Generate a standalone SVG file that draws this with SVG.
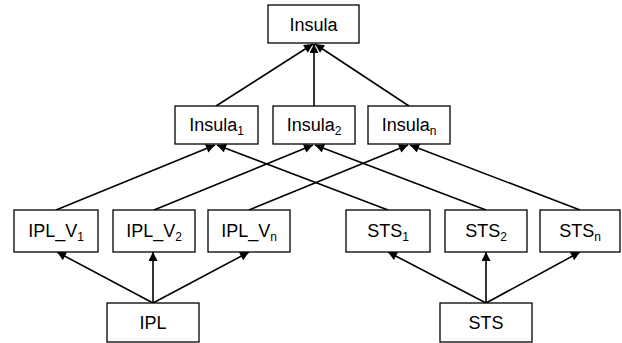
<svg xmlns="http://www.w3.org/2000/svg" width="622" height="343" viewBox="0 0 622 343">
  <defs>
    <marker id="arrow" viewBox="0 0 10 10" refX="10" refY="5" markerWidth="10" markerHeight="9" markerUnits="userSpaceOnUse" orient="auto">
      <path d="M0,0 L10,5 L0,10 Z" fill="#000"/>
    </marker>
    <style>
      .box { fill: #fff; stroke: #000; stroke-width: 1.3; }
      .lbl { font-family: "Liberation Sans", Arial, sans-serif; font-size: 18px; fill: #000; text-anchor: middle; }
      .sub { font-size: 12px; }
      .edge { stroke: #000; stroke-width: 1.6; fill: none; marker-end: url(#arrow); }
    </style>
  </defs>
  <rect width="622" height="343" fill="#fff"/>

  <!-- connectors -->
  <g id="edges">
    <!-- middle layer to top -->
    <line class="edge" x1="216" y1="106" x2="313" y2="44"/>
    <line class="edge" x1="314" y1="106" x2="314" y2="44"/>
    <line class="edge" x1="409" y1="106" x2="315" y2="44"/>
    <!-- lower layer to middle layer -->
    <line class="edge" x1="56" y1="210" x2="215" y2="145"/>
    <line class="edge" x1="388" y1="210" x2="217" y2="145"/>
    <line class="edge" x1="154" y1="210" x2="313" y2="145"/>
    <line class="edge" x1="486" y1="210" x2="315" y2="145"/>
    <line class="edge" x1="249" y1="210" x2="408" y2="145"/>
    <line class="edge" x1="580" y1="210" x2="410" y2="145"/>
    <!-- sources to lower layer -->
    <line class="edge" x1="153" y1="303" x2="57" y2="252"/>
    <line class="edge" x1="153" y1="303" x2="153" y2="252"/>
    <line class="edge" x1="153" y1="303" x2="249" y2="252"/>
    <line class="edge" x1="486" y1="303" x2="388" y2="252"/>
    <line class="edge" x1="486" y1="303" x2="486" y2="252"/>
    <line class="edge" x1="486" y1="303" x2="580" y2="252"/>
  </g>

  <g id="insula">
    <rect class="box" x="268" y="5" width="91" height="38"/>
    <text class="lbl" x="313.5" y="31">Insula</text>
  </g>

  <g id="insula1">
    <rect class="box" x="175" y="106" width="83" height="38"/>
    <text class="lbl" x="216.5" y="131">Insula<tspan class="sub" dy="4">1</tspan></text>
  </g>
  <g id="insula2">
    <rect class="box" x="273" y="106" width="82" height="38"/>
    <text class="lbl" x="314" y="131">Insula<tspan class="sub" dy="4">2</tspan></text>
  </g>
  <g id="insulan">
    <rect class="box" x="368" y="106" width="82" height="38"/>
    <text class="lbl" x="409" y="131">Insula<tspan class="sub" dy="4">n</tspan></text>
  </g>

  <g id="ipl_v1">
    <rect class="box" x="14" y="210" width="84" height="42"/>
    <text class="lbl" x="56" y="237">IPL_V<tspan class="sub" dy="4">1</tspan></text>
  </g>
  <g id="ipl_v2">
    <rect class="box" x="113" y="210" width="82" height="42"/>
    <text class="lbl" x="154" y="237">IPL_V<tspan class="sub" dy="4">2</tspan></text>
  </g>
  <g id="ipl_vn">
    <rect class="box" x="208" y="210" width="82" height="42"/>
    <text class="lbl" x="249" y="237">IPL_V<tspan class="sub" dy="4">n</tspan></text>
  </g>

  <g id="sts1">
    <rect class="box" x="346" y="210" width="84" height="42"/>
    <text class="lbl" x="388" y="237">STS<tspan class="sub" dy="4">1</tspan></text>
  </g>
  <g id="sts2">
    <rect class="box" x="445" y="210" width="82" height="42"/>
    <text class="lbl" x="486" y="237">STS<tspan class="sub" dy="4">2</tspan></text>
  </g>
  <g id="stsn">
    <rect class="box" x="540" y="210" width="80" height="42"/>
    <text class="lbl" x="580" y="237">STS<tspan class="sub" dy="4">n</tspan></text>
  </g>

  <g id="ipl">
    <rect class="box" x="107" y="303" width="92" height="39"/>
    <text class="lbl" x="153" y="329">IPL</text>
  </g>
  <g id="sts">
    <rect class="box" x="440" y="303" width="92" height="39"/>
    <text class="lbl" x="486" y="329">STS</text>
  </g>
</svg>
